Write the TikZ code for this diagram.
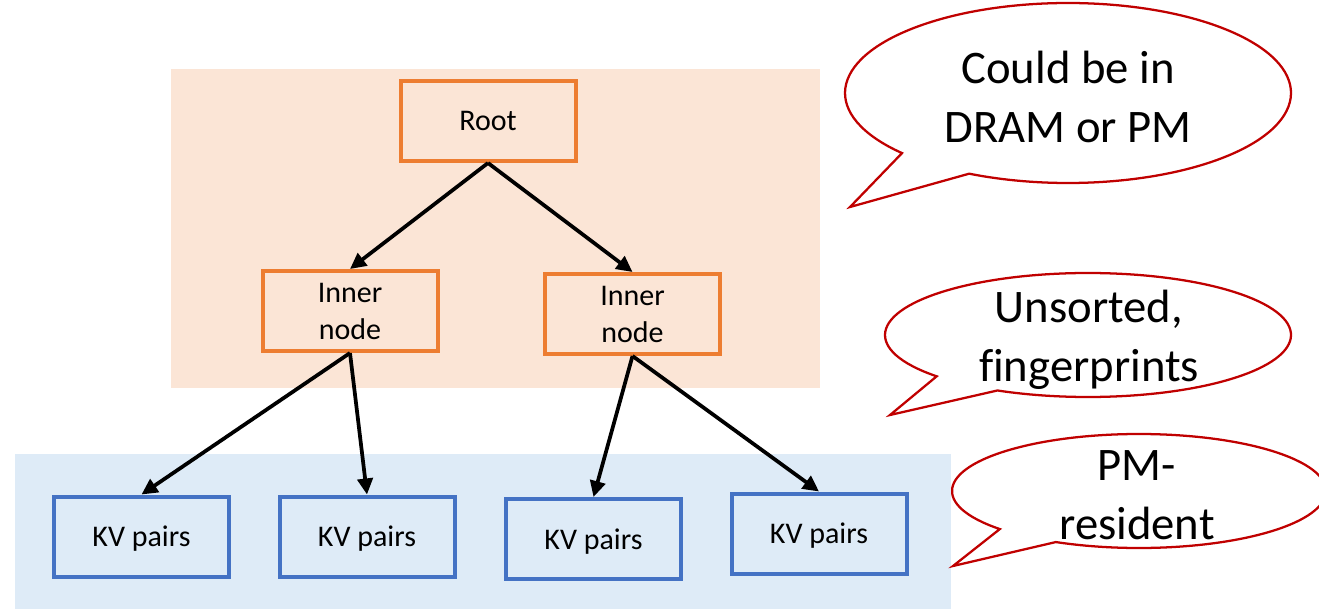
\documentclass[tikz,border=0pt]{standalone}
\usepackage{fontspec}
\setmainfont[Ligatures=NoCommon]{Carlito}
\usetikzlibrary{arrows.meta}
\newlength\pxu
\setlength\pxu{0.75pt}
\definecolor{boxorange}{HTML}{ED7D31}
\definecolor{boxblue}{HTML}{4472C4}
\definecolor{bgorange}{HTML}{FBE5D6}
\definecolor{bgblue}{HTML}{DEEBF7}
\definecolor{calloutred}{HTML}{C00000}
\begin{document}
\begin{tikzpicture}[x=\pxu, y=-\pxu,
  treebox/.style={draw, line width=3pt, minimum width=131.25pt, minimum height=60pt,
    inner sep=0pt, align=center, font=\fontsize{22.5}{27.75}\selectfont},
  upper/.style={treebox, draw=boxorange},
  lower/.style={treebox, draw=boxblue, text depth=0pt},
  link/.style={line width=2.8pt, -{Triangle[length=12pt, width=11.5pt]}},
  bubble/.style={draw=calloutred, line width=1.7pt, fill=white, line join=miter},
  bubbletext/.style={align=center, inner sep=0pt, font=\fontsize{35}{44.25}\selectfont}]
\useasboundingbox (0,0) rectangle (1319,609);

% background bands
\fill[bgorange] (171,69) rectangle (820,388);
\fill[bgblue] (15,454) rectangle (951,609);

% tree
\node[upper] (root) at (488,121) {Root};
\node[upper] (inL) at (350,311) {Inner\\node};
\node[upper] (inR) at (632.5,314) {Inner\\node};
\node[lower] (kv1) at (141.5,536.5) {KV pairs};
\node[lower] (kv2) at (367,536.5) {KV pairs};
\node[lower] (kv3) at (593.5,539) {KV pairs};
\node[lower] (kv4) at (819,533.5) {KV pairs};

\draw[link] (root.south) -- (inL.north);
\draw[link] (root.south) -- (inR.north);
\draw[link] (inL.south) -- (kv1.north);
\draw[link] (inL.south) -- (kv2.north);
\draw[link] (inR.south) -- (kv3.north);
\draw[link] (inR.south) -- (kv4.north);

% speech bubbles
\path[bubble] (1068,93) ++(138.1:223 and 90)
  arc[start angle=138.1, end angle=476.3, x radius=223, y radius=90] -- (850,207) -- cycle;
\node[bubbletext] (c1) at (1068,97) {Could be in\\DRAM or PM};

\path[bubble] (1088,335) ++(138.2:203 and 62)
  arc[start angle=138.2, end angle=476.5, x radius=203, y radius=62] -- (890,415) -- cycle;
\node[bubbletext] (c2) at (1089,340) {Unsorted,\\fingerprints};

\path[bubble] (1139,491) ++(138.1:187 and 57)
  arc[start angle=138.1, end angle=476.4, x radius=187, y radius=57] -- (953,566) -- cycle;
\node[bubbletext] (c3) at (1137,495) {PM-\\resident};
\end{tikzpicture}
\end{document}
